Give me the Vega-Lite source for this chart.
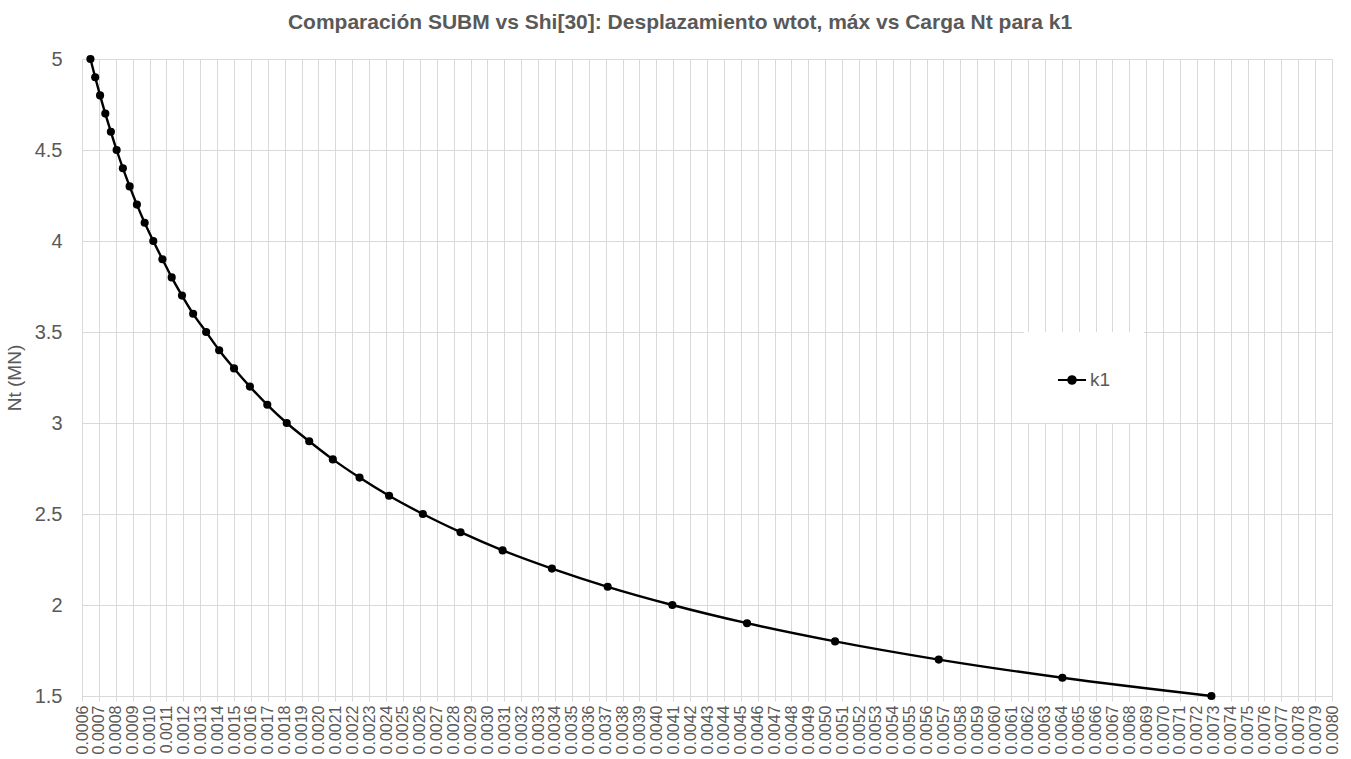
{
  "$schema": "https://vega.github.io/schema/vega-lite/v6.json",
  "autosize": {"type": "none"},
  "width": 1250,
  "height": 637,
  "padding": {"left": 82, "top": 59, "right": 19, "bottom": 63},
  "background": "white",
  "config": {
    "view": {"stroke": null},
    "font": "Liberation Sans"
  },
  "title": {
    "text": "Comparación SUBM vs Shi[30]: Desplazamiento wtot, máx vs Carga Nt para k1",
    "font": "Liberation Sans",
    "fontSize": 21,
    "fontWeight": "bold",
    "color": "#595959",
    "anchor": "middle",
    "dx": -27,
    "offset": 16
  },
  "data": {
    "values": [
      {"serie": "k1", "N": 5.0, "w": 0.000650},
      {"serie": "k1", "N": 4.9, "w": 0.000678},
      {"serie": "k1", "N": 4.8, "w": 0.000707},
      {"serie": "k1", "N": 4.7, "w": 0.000738},
      {"serie": "k1", "N": 4.6, "w": 0.000771},
      {"serie": "k1", "N": 4.5, "w": 0.000805},
      {"serie": "k1", "N": 4.4, "w": 0.000842},
      {"serie": "k1", "N": 4.3, "w": 0.000882},
      {"serie": "k1", "N": 4.2, "w": 0.000925},
      {"serie": "k1", "N": 4.1, "w": 0.000971},
      {"serie": "k1", "N": 4.0, "w": 0.001022},
      {"serie": "k1", "N": 3.9, "w": 0.001076},
      {"serie": "k1", "N": 3.8, "w": 0.001131},
      {"serie": "k1", "N": 3.7, "w": 0.001192},
      {"serie": "k1", "N": 3.6, "w": 0.001258},
      {"serie": "k1", "N": 3.5, "w": 0.001335},
      {"serie": "k1", "N": 3.4, "w": 0.001412},
      {"serie": "k1", "N": 3.3, "w": 0.001500},
      {"serie": "k1", "N": 3.2, "w": 0.001594},
      {"serie": "k1", "N": 3.1, "w": 0.001697},
      {"serie": "k1", "N": 3.0, "w": 0.001812},
      {"serie": "k1", "N": 2.9, "w": 0.001945},
      {"serie": "k1", "N": 2.8, "w": 0.002085},
      {"serie": "k1", "N": 2.7, "w": 0.002243},
      {"serie": "k1", "N": 2.6, "w": 0.002418},
      {"serie": "k1", "N": 2.5, "w": 0.002618},
      {"serie": "k1", "N": 2.4, "w": 0.002841},
      {"serie": "k1", "N": 2.3, "w": 0.003090},
      {"serie": "k1", "N": 2.2, "w": 0.003382},
      {"serie": "k1", "N": 2.1, "w": 0.003712},
      {"serie": "k1", "N": 2.0, "w": 0.004095},
      {"serie": "k1", "N": 1.9, "w": 0.004537},
      {"serie": "k1", "N": 1.8, "w": 0.005058},
      {"serie": "k1", "N": 1.7, "w": 0.005672},
      {"serie": "k1", "N": 1.6, "w": 0.006404},
      {"serie": "k1", "N": 1.5, "w": 0.007286}
    ]
  },
  "encoding": {
    "x": {
      "field": "w",
      "type": "quantitative",
      "scale": {"domain": [0.0006, 0.008], "nice": false, "zero": false},
      "axis": {
        "title": null,
        "values": [0.0006, 0.0007, 0.0008, 0.0009, 0.0010, 0.0011, 0.0012, 0.0013, 0.0014, 0.0015, 0.0016, 0.0017, 0.0018, 0.0019, 0.0020, 0.0021, 0.0022, 0.0023, 0.0024, 0.0025, 0.0026, 0.0027, 0.0028, 0.0029, 0.0030, 0.0031, 0.0032, 0.0033, 0.0034, 0.0035, 0.0036, 0.0037, 0.0038, 0.0039, 0.0040, 0.0041, 0.0042, 0.0043, 0.0044, 0.0045, 0.0046, 0.0047, 0.0048, 0.0049, 0.0050, 0.0051, 0.0052, 0.0053, 0.0054, 0.0055, 0.0056, 0.0057, 0.0058, 0.0059, 0.0060, 0.0061, 0.0062, 0.0063, 0.0064, 0.0065, 0.0066, 0.0067, 0.0068, 0.0069, 0.0070, 0.0071, 0.0072, 0.0073, 0.0074, 0.0075, 0.0076, 0.0077, 0.0078, 0.0079, 0.0080],
        "format": ".4f",
        "labelAngle": -90,
        "labelAlign": "right",
        "labelBaseline": "middle",
        "labelFontSize": 16,
        "labelColor": "#595959",
        "labelFont": "Liberation Sans",
        "labelOverlap": false,
        "labelPadding": 4,
        "labelFlush": false,
        "tickSize": 5,
        "tickColor": "#d9d9d9",
        "domainColor": "#d9d9d9",
        "gridColor": "#d9d9d9",
        "grid": true
      }
    },
    "y": {
      "field": "N",
      "type": "quantitative",
      "scale": {"domain": [1.5, 5], "nice": false, "zero": false},
      "axis": {
        "title": "Nt (MN)",
        "titleFont": "Liberation Sans",
        "titleFontSize": 19,
        "titleFontWeight": "normal",
        "titleColor": "#595959",
        "titlePadding": 10,
        "values": [1.5, 2, 2.5, 3, 3.5, 4, 4.5, 5],
        "format": ".1~f",
        "labelFontSize": 20,
        "labelColor": "#595959",
        "labelFont": "Liberation Sans",
        "labelPadding": 20,
        "labelFlush": false,
        "ticks": false,
        "domainColor": "#d9d9d9",
        "gridColor": "#d9d9d9",
        "grid": true
      }
    },
    "color": {
      "field": "serie",
      "type": "nominal",
      "scale": {"range": ["black"]},
      "legend": {
        "orient": "none",
        "legendX": 942,
        "legendY": 273,
        "title": null,
        "fillColor": "white",
        "padding": 33,
        "symbolType": "M-1,0L1,0M0.27,0A0.27,0.27 0 1,1 -0.27,0A0.27,0.27 0 1,1 0.27,0Z",
        "symbolSize": 784,
        "symbolStrokeWidth": 2,
        "symbolStrokeColor": "black",
        "symbolFillColor": "black",
        "labelFontSize": 19,
        "labelColor": "#595959",
        "labelFont": "Liberation Sans",
        "labelOffset": 3
      }
    }
  },
  "layer": [
    {"mark": {"type": "line", "interpolate": "monotone", "strokeWidth": 2.4}},
    {"mark": {"type": "point", "filled": true, "size": 66, "opacity": 1}}
  ]
}
